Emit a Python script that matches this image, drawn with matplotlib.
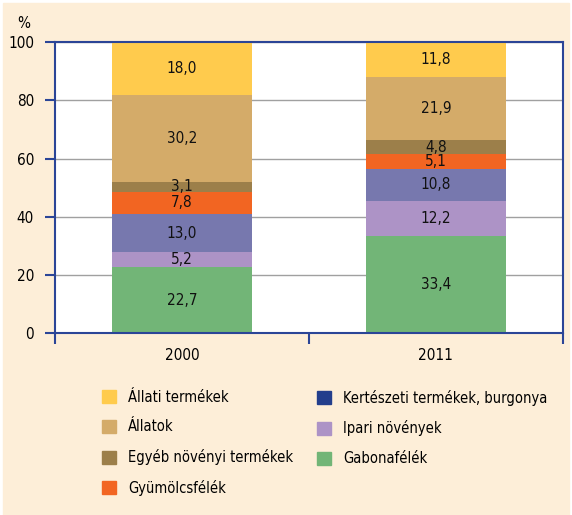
import matplotlib

matplotlib.use("Agg")

import matplotlib.pyplot as plt
import numpy as np

plt.rcParams["font.family"] = ["DejaVu Sans"]
plt.rcParams["font.stretch"] = "condensed"

years = ["2000", "2011"]
# stacked from bottom to top
categories = [
    "Gabonafélék",
    "Ipari növények",
    "Kertészeti termékek, burgonya",
    "Gyümölcsfélék",
    "Egyéb növényi termékek",
    "Állatok",
    "Állati termékek",
]
values_2000 = [22.7, 5.2, 13.0, 7.8, 3.1, 30.2, 18.0]
values_2011 = [33.4, 12.2, 10.8, 5.1, 4.8, 21.9, 11.8]

bar_colors = ["#72b577", "#ad93c6", "#7778ae", "#f26522", "#9c7f4a", "#d4ab69", "#ffcb4d"]
legend_colors = ["#72b577", "#ad93c6", "#233e8c", "#f26522", "#9c7f4a", "#d4ab69", "#ffcb4d"]

cream = "#fdeed8"
spine_blue = "#2b4597"

fig = plt.figure(figsize=(5.72, 5.15), dpi=100, facecolor="white")
# cream panel with a thin white margin
fig.patches.append(plt.Rectangle((3 / 572, -0.01), 566 / 572, 1.01 - 3 / 515,
                                 transform=fig.transFigure, color=cream, zorder=-5))

ax = fig.add_axes([0.096, 0.353, 0.888, 0.565])
ax.set_facecolor("white")

data = np.array([values_2000, values_2011])
x = np.arange(len(years))
bottom = np.zeros(len(years))
for i, cat in enumerate(categories):
    vals = data[:, i]
    ax.bar(x, vals, bottom=bottom, width=0.55, color=bar_colors[i], zorder=2)
    for xi, v, b in zip(x, vals, bottom):
        ax.text(xi, b + v / 2, f"{v:.1f}".replace(".", ","), ha="center",
                va="center", fontsize=11, color="#111111", zorder=3)
    bottom += vals

ax.set_xlim(-0.5, 1.5)
ax.set_ylim(0, 100)
ax.set_yticks([0, 20, 40, 60, 80, 100])
ax.yaxis.grid(True, color="#a0a0a0", linewidth=1.0, zorder=0)
ax.set_axisbelow(True)

ax.set_xticks(x)
ax.set_xticklabels(years, fontsize=11)
ax.set_xticks([-0.5, 0.5, 1.5], minor=True)
ax.tick_params(axis="x", which="major", length=0, pad=11)
ax.tick_params(axis="x", which="minor", length=8, width=1.5, color=spine_blue)
ax.tick_params(axis="y", length=7, width=1.5, color=spine_blue, labelsize=11, pad=8)

for side in ["left", "right", "top", "bottom"]:
    ax.spines[side].set_color(spine_blue)
    ax.spines[side].set_linewidth(1.5)

fig.text(0.03, 0.955, "%", fontsize=11, ha="left", va="center")

handles = [plt.Rectangle((0, 0), 1, 1, color=c) for c in legend_colors]
col1 = [6, 5, 4, 3]
col2 = [2, 1, 0]
leg_kw = dict(loc="upper left", frameon=False, fontsize=10.5, handlelength=1.0,
              handleheight=1.0, handletextpad=0.8, labelspacing=1.0,
              borderpad=0, borderaxespad=0)
fig.legend([handles[i] for i in col1], [categories[i] for i in col1],
           bbox_to_anchor=(0.178, 0.243), **leg_kw)
fig.legend([handles[i] for i in col2], [categories[i] for i in col2],
           bbox_to_anchor=(0.554, 0.243), **leg_kw)

fig.savefig("out.png", dpi=100, facecolor="white")
